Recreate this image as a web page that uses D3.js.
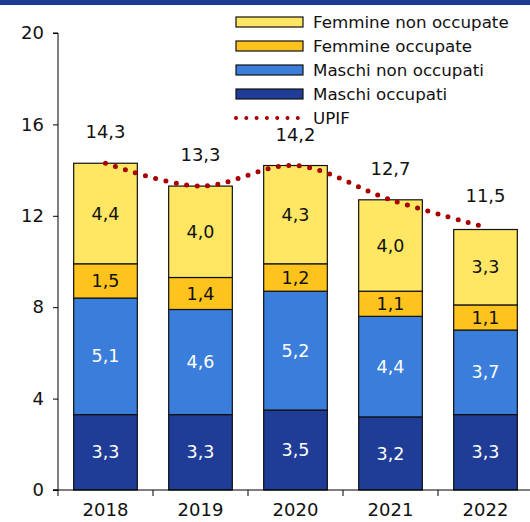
<!DOCTYPE html>
<html><head><meta charset="utf-8">
<script src="https://cdn.jsdelivr.net/npm/d3@7"></script>
<style>
html,body{margin:0;padding:0;background:#fff;}
svg{display:block;font-family:"DejaVu Sans",sans-serif;}
</style></head>
<body>
<svg id="chart" width="530" height="522"></svg>
<script>
const years = ["2018","2019","2020","2021","2022"];
const maschiOccupati = [3.3,3.3,3.5,3.2,3.3];
const maschiNonOccupati = [5.1,4.6,5.2,4.4,3.7];
const femmineOccupate = [1.5,1.4,1.2,1.1,1.1];
const femmineNonOccupate = [4.4,4.0,4.3,4.0,3.3];
const upif = [14.3,13.3,14.2,12.7,11.5];
const yTicks = [0,4,8,12,16,20];

const seriesNames = ["Maschi occupati","Maschi non occupati","Femmine occupate","Femmine non occupate"];
const seriesColors = ["#1F3C96","#3A7DDA","#FFC31E","#FFE764"];
const labelColors = ["#fff","#fff","#111","#111"];
const seriesData = [maschiOccupati,maschiNonOccupati,femmineOccupate,femmineNonOccupate];

const svg = d3.select("#chart");
const fmt = v => d3.format(".1f")(v).replace(".", ",");

// top band
svg.append("rect").attr("x",0).attr("y",0).attr("width",530).attr("height",5).attr("fill","#1F3A93");

const x = d3.scaleBand().domain(years).range([58,533]).paddingInner(0.33).paddingOuter(0.165);
const xb = d3.scaleBand().domain(years).range([58,533]);
const y = d3.scaleLinear().domain([0,20]).range([490,33]);

const table = years.map((yr,i)=>{const o={year:yr}; seriesNames.forEach((s,k)=>o[s]=seriesData[k][i]); return o;});
const stacked = d3.stack().keys(seriesNames)(table);

const g = svg.append("g");
stacked.forEach((layer,k)=>{
  g.selectAll(null).data(layer).enter().append("rect")
    .attr("x",d=>x(d.data.year)).attr("width",x.bandwidth())
    .attr("y",d=>y(d[1])).attr("height",d=>y(d[0])-y(d[1]))
    .attr("fill",seriesColors[k]).attr("stroke","#111").attr("stroke-width",1.2);
  g.selectAll(null).data(layer).enter().append("text")
    .attr("x",d=>x(d.data.year)+x.bandwidth()/2)
    .attr("y",d=>y((d[0]+d[1])/2))
    .attr("dy","0.35em").attr("text-anchor","middle")
    .attr("font-size",17.5).attr("fill",labelColors[k])
    .text(d=>fmt(d[1]-d[0]));
});

// UPIF line
const line = d3.line().x((d,i)=>xb(years[i])+xb.bandwidth()/2).y(d=>y(d)).curve(d3.curveCatmullRom.alpha(0.5));
svg.append("path").datum(upif).attr("d",line).attr("fill","none")
  .attr("stroke","#A80000").attr("stroke-width",5).attr("stroke-linecap","round")
  .attr("stroke-dasharray","0,10.5");

// total labels
svg.selectAll(null).data(upif).enter().append("text")
  .attr("x",(d,i)=>xb(years[i])+xb.bandwidth()/2)
  .attr("y",d=>y(d)-25).attr("text-anchor","middle")
  .attr("font-size",18).attr("fill","#111").text(d=>fmt(d));

// axes
const yAxis = d3.axisLeft(y).tickValues(yTicks).tickSize(5).tickPadding(9).tickFormat(d3.format("d"));
const ya = svg.append("g").attr("transform","translate(58,0)").call(yAxis);
ya.select(".domain").attr("d","M-5,33H0V490H-5");
const xAxis = d3.axisBottom(xb).tickSize(0).tickPadding(13);
const xa = svg.append("g").attr("transform","translate(0,490)").call(xAxis);
xa.select(".domain").attr("d","M53,0H530");
xa.selectAll(null).data([58,153,248,343,438]).enter().append("line")
  .attr("x1",d=>d).attr("x2",d=>d).attr("y1",0).attr("y2",6).attr("stroke","#000");
svg.selectAll(".tick text").attr("font-size",18).attr("fill","#111").attr("font-family","DejaVu Sans, sans-serif");
svg.selectAll(".domain, .tick line").attr("stroke","#000");

// legend
const legendItems = [
  {name:"Femmine non occupate",color:"#FFE764",type:"rect"},
  {name:"Femmine occupate",color:"#FFC31E",type:"rect"},
  {name:"Maschi non occupati",color:"#3A7DDA",type:"rect"},
  {name:"Maschi occupati",color:"#1F3C96",type:"rect"},
  {name:"UPIF",color:"#A80000",type:"line"}
];
const lg = svg.append("g");
legendItems.forEach((it,i)=>{
  const cy = 22 + i*24;
  if(it.type==="rect"){
    lg.append("rect").attr("x",236).attr("y",cy-5).attr("width",67).attr("height",10)
      .attr("fill",it.color).attr("stroke","#111").attr("stroke-width",1.2);
  } else {
    lg.append("line").attr("x1",236).attr("x2",304).attr("y1",cy).attr("y2",cy)
      .attr("stroke",it.color).attr("stroke-width",4).attr("stroke-linecap","round")
      .attr("stroke-dasharray","0,10.3");
  }
  lg.append("text").attr("x",313).attr("y",cy).attr("dy","0.35em")
    .attr("font-size",16.7).attr("fill","#111").text(it.name);
});
</script>
</body></html>
